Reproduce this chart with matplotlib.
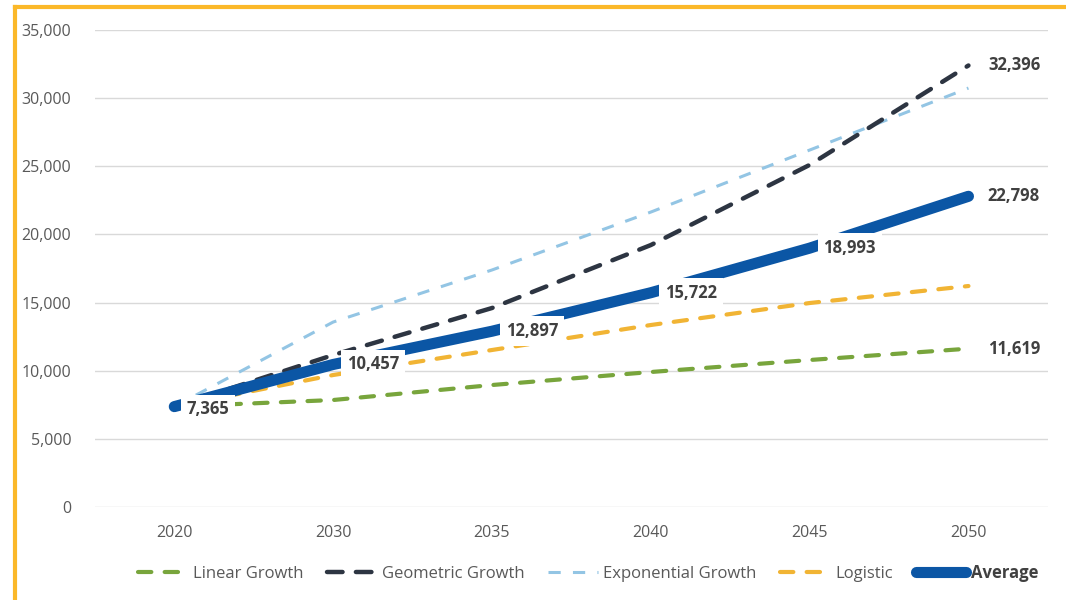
import matplotlib.pyplot as plt
from matplotlib.ticker import FuncFormatter
from matplotlib.lines import Line2D

years = ['2020', '2030', '2035', '2040', '2045', '2050']
linear = [7365, 7850, 8950, 9905, 10785, 11619]
geometric = [7365, 11150, 14600, 19220, 25100, 32396]
exponential = [7365, 13570, 17390, 21640, 26190, 30740]
logistic = [7365, 9684, 11519, 13353, 14967, 16215]
average = [7365, 10457, 12897, 15722, 18993, 22798]

text_col = '#404040'
tick_col = '#595959'

plt.rcParams['font.family'] = ['Open Sans', 'DejaVu Sans']

fig = plt.figure(figsize=(10.66, 6), dpi=100)
ax = fig.add_axes([0.089, 0.155, 0.894, 0.795])

x = list(range(len(years)))

ax.plot(x, linear, color='#78a53c', lw=3, linestyle=(0, (3.2, 3.2)),
        dash_capstyle='round', label='Linear Growth', zorder=3)
ax.plot(x, geometric, color='#2d3542', lw=3.2, linestyle=(0, (3.5, 3.0)),
        dash_capstyle='round', label='Geometric Growth', zorder=3)
ax.plot(x, exponential, color='#93c5e4', lw=2.2, linestyle=(0, (4, 4)),
        label='Exponential Growth', zorder=2)
ax.plot(x, logistic, color='#f1b434', lw=3, linestyle=(0, (3.2, 3.2)),
        dash_capstyle='round', label='Logistic', zorder=3)
ax.plot(x, average, color='#0b56a5', lw=8, solid_capstyle='round',
        label='Average', zorder=4)

box = dict(boxstyle='square,pad=0.35', fc='white', ec='none')

def put_label(xi, yi, dx=10, dy=0):
    ax.annotate(f'{yi:,}', xy=(xi, yi), xytext=(dx, dy), textcoords='offset points',
                ha='left', va='center', fontsize=12, fontweight='bold',
                color=text_col, bbox=box, zorder=5)

for i, v in enumerate(average):
    if i == 0:
        put_label(i, v, 9, -2)
    elif i == 5:
        put_label(i, v, 14)
    else:
        put_label(i, v)
put_label(5, geometric[-1], 14)
put_label(5, linear[-1], 14)

ax.set_xlim(-0.5, 5.5)
ax.set_ylim(0, 35000)
ax.set_xticks(x)
ax.set_xticklabels(years)
ax.set_yticks(range(0, 35001, 5000))
ax.yaxis.set_major_formatter(FuncFormatter(lambda v, p: '{:,.0f}'.format(v)))
ax.tick_params(axis='both', length=0, labelsize=11.5, labelcolor=tick_col)
ax.tick_params(axis='y', pad=17)
ax.tick_params(axis='x', pad=13)
ax.grid(axis='y', color='#d9d9d9', lw=1)
ax.set_axisbelow(True)
for s in ax.spines.values():
    s.set_visible(False)

leg = fig.legend(loc='center', bbox_to_anchor=(0.552, 0.045), ncol=5, frameon=False,
                 fontsize=12, handlelength=3.0, columnspacing=1.4, handletextpad=0.3)
for t in leg.get_texts():
    t.set_color(tick_col)
leg.get_texts()[-1].set_fontweight('bold')
leg.get_texts()[-1].set_color(text_col)

# orange frame on the left and top
fig.add_artist(Line2D([0.0145, 0.0145], [0, 0.988], transform=fig.transFigure,
                      color='#fbb829', lw=3))
fig.add_artist(Line2D([0.0145, 1], [0.988, 0.988], transform=fig.transFigure,
                      color='#fbb829', lw=3))

plt.savefig('out.png', dpi=100)
